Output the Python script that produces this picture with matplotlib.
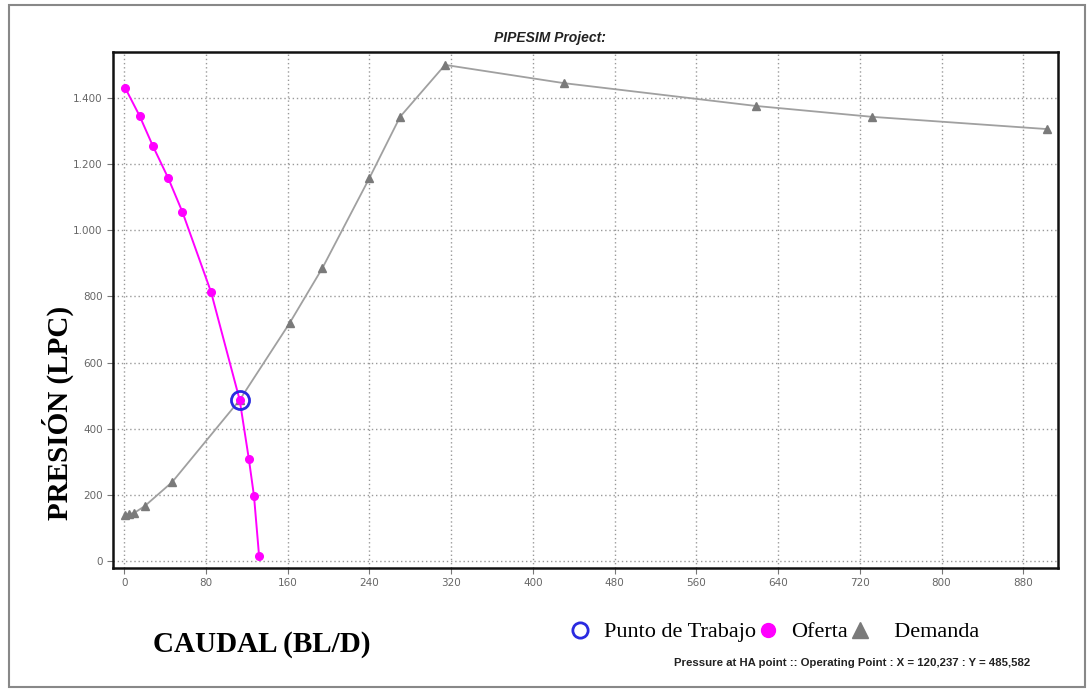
import matplotlib
matplotlib.use('Agg')
import matplotlib.pyplot as plt
from matplotlib.lines import Line2D
from matplotlib.patches import Rectangle
from matplotlib.ticker import FuncFormatter

# Oferta (IPR) - caudal vs presion
oferta_q = [1, 15, 28, 43, 57, 85, 113, 122, 127, 132]
oferta_p = [1430, 1346, 1255, 1158, 1055, 813, 487, 308, 197, 15]

# Demanda (VLP)
demanda_q = [1, 5, 10, 20, 47, 113, 162, 194, 240, 270, 314, 430, 618, 732, 903]
demanda_p = [139, 142, 146, 166, 239, 487, 720, 886, 1158, 1343, 1500, 1445, 1376, 1343, 1306]

# punto de trabajo
op_q = [113]
op_p = [487]

xticks = list(range(0, 881, 80))
yticks = list(range(0, 1401, 200))

fig = plt.figure(figsize=(10.9, 6.9), dpi=100)
ax = fig.add_axes([113/1090, 1-568/690, (1058-113)/1090, (568-52)/690])

ax.plot(oferta_q, oferta_p, color='#ff00ff', lw=1.4, marker='o', ms=5.5, zorder=3)
ax.plot(demanda_q, demanda_p, color='#a0a0a0', lw=1.3, marker='^', ms=6,
        markerfacecolor='#7a7a7a', markeredgecolor='#7a7a7a', zorder=2)
ax.plot(op_q, op_p, linestyle='none', marker='o', ms=13, markerfacecolor='none',
        markeredgecolor='#2a2ae0', markeredgewidth=2, zorder=4)

ax.set_xlim(-11, 914)
ax.set_ylim(-21, 1539)
ax.set_xticks(xticks)
ax.set_yticks(yticks)
ax.yaxis.set_major_formatter(FuncFormatter(lambda v, p: f'{int(v):,}'.replace(',', '.')))
ax.tick_params(labelsize=7.5, labelcolor='#666666', color='#777777', length=4, width=0.8)
ax.grid(True, linestyle=(0, (1, 2)), color='#999999', lw=1)
for s in ax.spines.values():
    s.set_color('#111111')
    s.set_linewidth(1.8)

fig.text(550/1090, 1-38/690, 'PIPESIM Project:', ha='center', va='center',
         fontsize=10, fontweight='bold', fontstyle='italic', family='Liberation Sans', color='#222222')

fig.text(58/1090, 1-413/690, 'PRESIÓN (LPC)', rotation=90, ha='center', va='center',
         fontsize=21, fontweight='bold', family='Liberation Serif')
fig.text(262/1090, 1-645/690, 'CAUDAL (BL/D)', ha='center', va='center',
         fontsize=21, fontweight='bold', family='Liberation Serif')

handles = [
    Line2D([], [], linestyle='none', marker='o', ms=11, markerfacecolor='none',
           markeredgecolor='#2a2ae0', markeredgewidth=2),
    Line2D([], [], linestyle='none', marker='o', ms=10, color='#ff00ff'),
    Line2D([], [], linestyle='none', marker='^', ms=11, color='#7a7a7a'),
]
labels = ['Punto de Trabajo', 'Oferta', '  Demanda']
fig.legend(handles, labels, loc='center left', bbox_to_anchor=(548/1090, 1-632/690),
           ncol=3, frameon=False, handletextpad=0.5, columnspacing=0.0, handlelength=1.1,
           prop={'family': 'Liberation Serif', 'size': 16})

fig.text(1030/1090, 1-663/690, 'Pressure at HA point :: Operating Point : X = 120,237 : Y = 485,582',
         ha='right', va='center', fontsize=8.2, fontweight='bold', family='Liberation Sans', color='#222222')

fig.patches.append(Rectangle((9/1090, 3/690), 1076/1090, 682/690, transform=fig.transFigure,
                             fill=False, edgecolor='#888888', lw=1.5))

fig.savefig('out.png', dpi=100)
